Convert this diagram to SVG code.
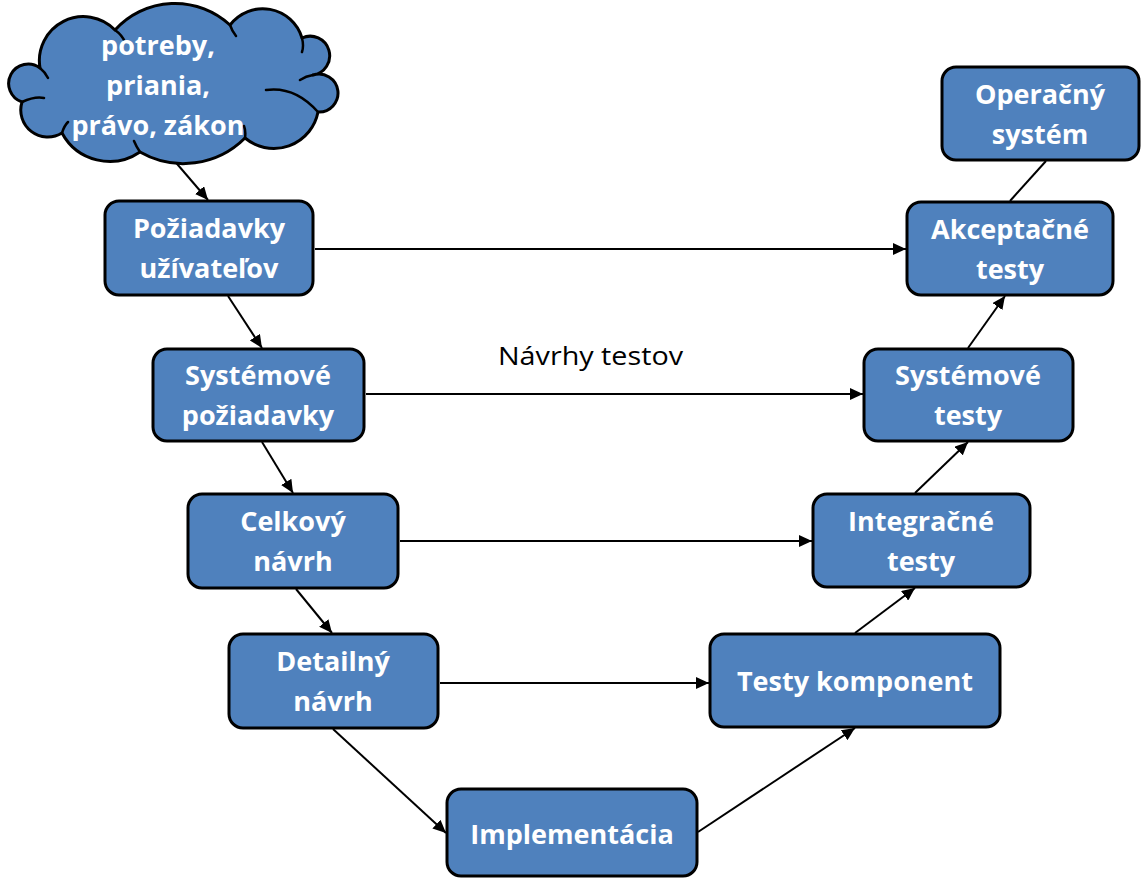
<svg xmlns="http://www.w3.org/2000/svg" width="1141" height="879" viewBox="0 0 1141 879">
<style>
.box{fill:#4f81bd;stroke:#000;stroke-width:3}
.lbl{font-family:"Open Sans","Liberation Sans",sans-serif;font-weight:bold;font-size:27px;fill:#fff;text-anchor:middle}
.con{stroke:#000;stroke-width:2;fill:none}
.note{font-family:"Open Sans","Liberation Sans",sans-serif;font-size:25px;fill:#000}
</style>
<defs>
<marker id="arr" markerUnits="userSpaceOnUse" markerWidth="14" markerHeight="12" refX="13" refY="6" orient="auto">
<path d="M0,0 L13,6 L0,12 z" fill="#000"/>
</marker>
</defs>
<rect width="1141" height="879" fill="#fff"/>
<g id="connectors">
<line class="con" x1="172" y1="158" x2="208" y2="200" marker-end="url(#arr)"/>
<line class="con" x1="228" y1="296" x2="262" y2="348" marker-end="url(#arr)"/>
<line class="con" x1="262" y1="442" x2="293" y2="493" marker-end="url(#arr)"/>
<line class="con" x1="296" y1="589" x2="332" y2="633" marker-end="url(#arr)"/>
<line class="con" x1="333" y1="729" x2="446" y2="833" marker-end="url(#arr)"/>
<line class="con" x1="698" y1="832" x2="855" y2="728" marker-end="url(#arr)"/>
<line class="con" x1="855" y1="633" x2="915" y2="588" marker-end="url(#arr)"/>
<line class="con" x1="915" y1="493" x2="968" y2="442" marker-end="url(#arr)"/>
<line class="con" x1="968" y1="348" x2="1005" y2="296" marker-end="url(#arr)"/>
<line class="con" x1="1010" y1="201" x2="1046" y2="161" stroke-width="3"/>
<line class="con" x1="315" y1="249" x2="906" y2="249" marker-end="url(#arr)"/>
<line class="con" x1="366" y1="394" x2="863" y2="394" marker-end="url(#arr)"/>
<line class="con" x1="400" y1="541" x2="812" y2="541" marker-end="url(#arr)"/>
<line class="con" x1="440" y1="683" x2="709" y2="683" marker-end="url(#arr)"/>
</g>
<text class="note" x="498" y="365" textLength="185" lengthAdjust="spacingAndGlyphs">Návrhy testov</text>
<g id="cloud">
<path d="M22,102 A19.5,19.5 0 1 1 40,68 A44,44 0 0 1 115,30 A81,81 0 0 1 230,25 A41,41 0 0 1 302,38 A19.5,19.5 0 1 1 313,75 A19,19 0 1 1 318,112 A45,45 0 0 1 245,138 A87,87 0 0 1 140,152 A54,54 0 0 1 62,133 A27,27 0 0 1 22,102 z" fill="#4f81bd" stroke="#000" stroke-width="3" stroke-linejoin="round"/>
<path d="M22,102 Q35,96 44,98 M62,133 Q64,126 68,122 M140,152 Q136,146 134,141 M245,138 Q246,131 244,126 M318,112 Q295,86 266,90 M313,75 Q306,76 300,80 M302,38 Q304,46 302,52 M230,25 Q232,31 236,36 M115,30 Q122,35 125,42 M40,68 Q45,72 48,78" fill="none" stroke="#000" stroke-width="2.5" stroke-linecap="round"/>
<text class="lbl" x="158" y="55">potreby,</text>
<text class="lbl" x="158" y="95">priania,</text>
<text class="lbl" x="158" y="135">právo, zákon</text>
</g>
<g id="pu"><rect class="box" x="105" y="201" width="208" height="94" rx="14"/><text class="lbl" x="209" y="238">Požiadavky</text><text class="lbl" x="209" y="278">užívateľov</text></g>
<g id="sp"><rect class="box" x="153" y="349" width="211" height="92" rx="14"/><text class="lbl" x="258" y="385">Systémové</text><text class="lbl" x="258" y="425">požiadavky</text></g>
<g id="cn"><rect class="box" x="188" y="494" width="210" height="94" rx="14"/><text class="lbl" x="293" y="531">Celkový</text><text class="lbl" x="293" y="571">návrh</text></g>
<g id="dn"><rect class="box" x="229" y="634" width="209" height="94" rx="14"/><text class="lbl" x="333" y="671">Detailný</text><text class="lbl" x="333" y="711">návrh</text></g>
<g id="im"><rect class="box" x="447" y="789" width="250" height="87" rx="14"/><text class="lbl" x="572" y="844">Implementácia</text></g>
<g id="tk"><rect class="box" x="710" y="634" width="290" height="93" rx="14"/><text class="lbl" x="855" y="691">Testy komponent</text></g>
<g id="it"><rect class="box" x="813" y="494" width="217" height="93" rx="14"/><text class="lbl" x="921" y="531">Integračné</text><text class="lbl" x="921" y="571">testy</text></g>
<g id="st"><rect class="box" x="864" y="349" width="209" height="92" rx="14"/><text class="lbl" x="968" y="385">Systémové</text><text class="lbl" x="968" y="425">testy</text></g>
<g id="at"><rect class="box" x="907" y="202" width="206" height="93" rx="14"/><text class="lbl" x="1010" y="239">Akceptačné</text><text class="lbl" x="1010" y="279">testy</text></g>
<g id="os"><rect class="box" x="942" y="67" width="197" height="93" rx="14"/><text class="lbl" x="1040" y="104">Operačný</text><text class="lbl" x="1040" y="144">systém</text></g>
</svg>
